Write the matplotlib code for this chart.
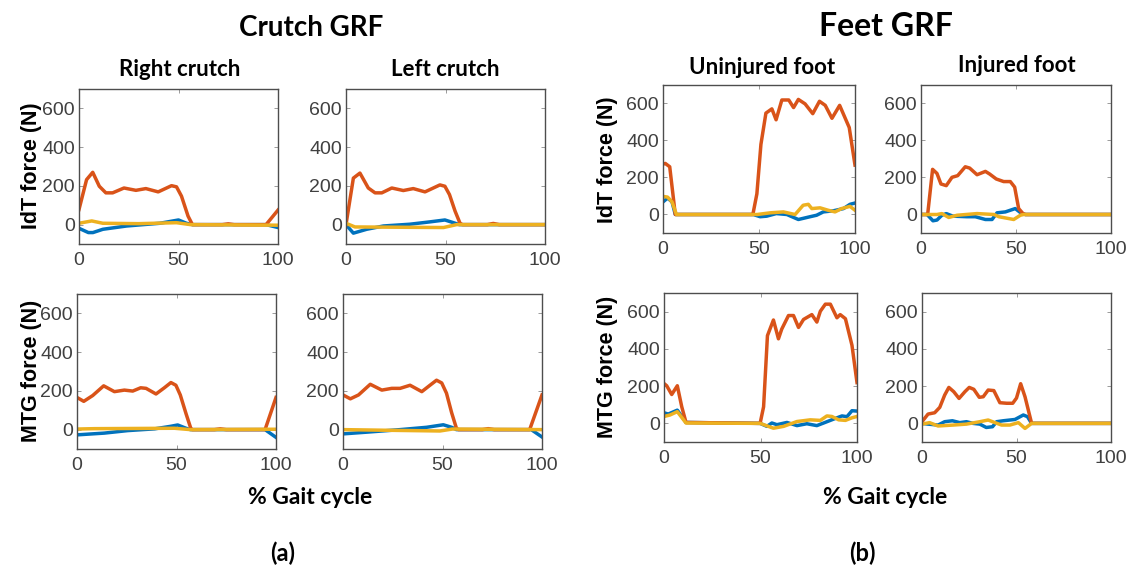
import matplotlib
matplotlib.use("Agg")
import matplotlib.pyplot as plt

# ---------------------------------------------------------------------------
# Ground reaction force components (N) versus % gait cycle.
# ap = anteroposterior (blue), vert = vertical (orange), ml = mediolateral (yellow)
# ---------------------------------------------------------------------------

# Right crutch, IdT
rc_idt_vert_x = [0, 3.8, 6.9, 10.2, 13.5, 16.9, 22.6, 28.6, 33.6, 39.8, 46.5, 49, 51.5, 54.8, 57, 72, 75, 78, 94, 100]
rc_idt_vert_y = [78, 232, 270, 198, 164, 164, 189, 177, 186, 169, 201, 195, 147, 44, 0, 0, 4, 0, 0, 75]
rc_idt_ap_x = [0, 4.7, 7, 12, 24, 40.6, 50, 54, 57, 94, 100]
rc_idt_ap_y = [-19, -41, -41, -24, -7, 7, 24, 7, 0, 0, -15]
rc_idt_ml_x = [0, 6.4, 12, 30, 49, 56, 100]
rc_idt_ml_y = [7, 19, 7, 5, 10, 0, -3]

# Left crutch, IdT
lc_idt_vert_x = [0, 3.7, 7, 11.2, 14.6, 18, 23, 28.8, 33.8, 39.7, 47.2, 49.7, 52, 54.8, 57.3, 58.5, 71, 74, 77, 100]
lc_idt_vert_y = [0, 240, 266, 189, 164, 164, 189, 176, 186, 169, 205, 198, 155, 70, 7, 0, 0, 6, 0, 0]
lc_idt_ap_x = [0, 3.7, 10.4, 18.8, 32, 42, 49.7, 54, 57, 100]
lc_idt_ap_y = [0, -44, -24, -7, 2, 14, 24, 10, 0, 0]
lc_idt_ml_x = [0, 4.5, 49, 55.6, 100]
lc_idt_ml_y = [7, -12, -15, 0, 0]

# Right crutch, MTG
rc_mtg_vert_x = [0, 3.4, 7.9, 13.4, 18.8, 23.8, 28, 32, 34.7, 39.7, 43.9, 47.2, 49.7, 51.9, 54.8, 57.3, 58, 69, 72, 75, 94.5, 100]
rc_mtg_vert_y = [166, 146, 176, 226, 196, 204, 199, 216, 213, 184, 216, 243, 229, 179, 82, 3, 0, 0, 4, 0, 0, 166]
rc_mtg_ap_x = [0, 13.7, 25.5, 39, 47, 50.6, 54.8, 57, 94.5, 100]
rc_mtg_ap_y = [-27, -18, -5, 4, 17, 24, 7, 0, 0, -40]
rc_mtg_ml_x = [0, 8.7, 49, 57, 100]
rc_mtg_ml_y = [3, 5, 7, 0, 2]

# Left crutch, MTG
lc_mtg_vert_x = [0, 3.7, 7.8, 13.7, 19.5, 24.5, 28.7, 33.7, 39.6, 43.7, 47, 49.6, 52, 54.6, 57, 58, 70, 73, 76, 93.8, 100]
lc_mtg_vert_y = [179, 159, 179, 234, 204, 213, 213, 229, 196, 229, 255, 241, 188, 87, 7, 0, 0, 5, 0, 0, 179]
lc_mtg_ap_x = [0, 12, 28.7, 42, 50.4, 54.6, 57, 94.6, 100]
lc_mtg_ap_y = [-22, -13, 0, 12, 25, 12, 0, 0, -38]
lc_mtg_ml_x = [0, 20, 48.7, 55, 100]
lc_mtg_ml_y = [0, -3, -7, 3, 0]

# Uninjured foot, IdT
uf_idt_vert_x = [0, 1.2, 3.5, 6.4, 46.8, 48.9, 51, 53.6, 56.7, 58.9, 61.9, 65.5, 68, 70.5, 74, 78, 81.5, 84.5, 88, 92, 97, 100]
uf_idt_vert_y = [272, 276, 258, 0, 0, 112, 379, 548, 571, 512, 619, 619, 578, 622, 598, 545, 612, 590, 520, 590, 470, 267]
uf_idt_ap_x = [0, 2.4, 4.7, 6.4, 47, 50.6, 54, 59, 64.5, 70.5, 76.6, 80, 83.5, 88.7, 94, 97.4, 100]
uf_idt_ap_y = [68, 89, 68, 0, 0, -12, -9, 5, 0, -27, -12, -4, 14, 20, 32, 55, 62]
uf_idt_ml_x = [0, 2.4, 4.7, 7, 49, 55.8, 62.7, 68.8, 73, 75.7, 77.5, 81.8, 86, 89.6, 93, 97.4, 100]
uf_idt_ml_y = [98, 94, 68, 0, 0, 9, 14, 0, 50, 55, 32, 36, 23, 14, 32, 44, 23]

# Injured foot, IdT
if_idt_vert_x = [0, 3.5, 6.1, 8.4, 10.5, 13.3, 16.3, 19.3, 23.3, 25.6, 29.5, 33.9, 36.1, 39.6, 43.5, 47, 49.3, 51.4, 53.7, 55, 100]
if_idt_vert_y = [0, 0, 244, 222, 165, 156, 201, 210, 258, 251, 215, 233, 219, 192, 178, 178, 148, 32, 5, 0, 0]
if_idt_ap_x = [0, 3.2, 6.3, 8.4, 11, 13.3, 16.8, 24.2, 28.6, 33.9, 37.4, 40, 44.4, 49.6, 53, 55, 100]
if_idt_ap_y = [0, 0, -34, -30, -4, 5, -9, -12, -12, -27, -27, 9, 14, 32, 5, 0, 0]
if_idt_ml_x = [0, 8.4, 11, 14.6, 19, 29.5, 38.4, 41, 48.8, 52.3, 54, 100]
if_idt_ml_y = [0, 0, 5, -16, -4, 5, 0, -12, -27, -4, 0, 0]

# Uninjured foot, MTG
uf_mtg_vert_x = [0, 1.4, 4, 6.9, 9.2, 11.4, 49.8, 51.6, 53.6, 56.7, 59.3, 61, 64.5, 67.1, 69.7, 72.3, 76.6, 79.2, 81, 83.6, 86.2, 89.6, 91.3, 94, 97.4, 100]
uf_mtg_vert_y = [214, 202, 155, 202, 89, 5, 0, 89, 471, 555, 454, 506, 579, 579, 515, 558, 584, 544, 602, 640, 640, 567, 584, 562, 419, 219]
uf_mtg_ap_x = [0, 2.2, 6.9, 11.4, 49.8, 53.3, 55.9, 58.5, 63.7, 68.9, 74, 79.2, 82.7, 87.9, 92.2, 94.8, 97.4, 100]
uf_mtg_ap_y = [57, 50, 71, 5, 0, -16, 2, -7, 5, -12, -2, -12, 2, 23, 40, 36, 68, 66]
uf_mtg_ml_x = [0, 3.1, 6.9, 11.4, 49.8, 56.7, 62, 68.9, 75.8, 81, 84.4, 87, 90.5, 94, 97.4, 100]
uf_mtg_ml_y = [37, 45, 63, 2, 0, -26, -16, 10, 19, 16, 40, 37, 19, 16, 30, 37]

# Injured foot, MTG
if_mtg_vert_x = [0, 3.2, 6.7, 9.4, 12, 14.2, 16.8, 19.6, 22.7, 25, 27.4, 30.3, 32.4, 35, 38, 41.2, 44.8, 48, 50, 52.2, 54.5, 58, 100]
if_mtg_vert_y = [9, 50, 57, 86, 152, 193, 170, 134, 170, 193, 183, 140, 143, 179, 176, 111, 108, 108, 136, 213, 143, 0, 0]
if_mtg_ap_x = [0, 3.2, 8.5, 12, 16.1, 20, 23.5, 27, 30.6, 34, 37.3, 39.5, 43, 49.2, 53.6, 55.8, 58, 100]
if_mtg_ap_y = [0, -4, -9, 9, 14, 4, 9, 0, -4, -22, -18, 9, 14, 21, 45, 36, 0, 0]
if_mtg_ml_x = [0, 4, 8.5, 16.5, 23.5, 30.6, 35, 38.6, 42.1, 46.5, 51, 54.5, 58, 100]
if_mtg_ml_y = [-4, 4, -14, -9, -4, 9, 18, 4, -9, -9, 4, -27, 0, 0]

x_ticks = [0, 50, 100]
y_ticks = [0, 200, 400, 600]
y_limits = (-100, 700)

BLUE = "#0072BD"
ORANGE = "#D95319"
YELLOW = "#EDB120"
TICK_COLOR = "#404040"

W, H = 1128, 571
fig = plt.figure(figsize=(W / 100, H / 100), dpi=100)
fig.patch.set_facecolor("white")


def box(left, top, right, bottom):
    return [left / W, 1 - bottom / H, (right - left) / W, (bottom - top) / H]


panels = [
    (box(79, 89, 278, 244), (rc_idt_ap_x, rc_idt_ap_y), (rc_idt_vert_x, rc_idt_vert_y), (rc_idt_ml_x, rc_idt_ml_y)),
    (box(346, 89, 545, 244), (lc_idt_ap_x, lc_idt_ap_y), (lc_idt_vert_x, lc_idt_vert_y), (lc_idt_ml_x, lc_idt_ml_y)),
    (box(77, 294, 276, 449), (rc_mtg_ap_x, rc_mtg_ap_y), (rc_mtg_vert_x, rc_mtg_vert_y), (rc_mtg_ml_x, rc_mtg_ml_y)),
    (box(343, 294, 542, 449), (lc_mtg_ap_x, lc_mtg_ap_y), (lc_mtg_vert_x, lc_mtg_vert_y), (lc_mtg_ml_x, lc_mtg_ml_y)),
    (box(663, 85, 855, 233), (uf_idt_ap_x, uf_idt_ap_y), (uf_idt_vert_x, uf_idt_vert_y), (uf_idt_ml_x, uf_idt_ml_y)),
    (box(921, 85, 1111, 233), (if_idt_ap_x, if_idt_ap_y), (if_idt_vert_x, if_idt_vert_y), (if_idt_ml_x, if_idt_ml_y)),
    (box(664, 293, 857, 442), (uf_mtg_ap_x, uf_mtg_ap_y), (uf_mtg_vert_x, uf_mtg_vert_y), (uf_mtg_ml_x, uf_mtg_ml_y)),
    (box(922, 293, 1111, 442), (if_mtg_ap_x, if_mtg_ap_y), (if_mtg_vert_x, if_mtg_vert_y), (if_mtg_ml_x, if_mtg_ml_y)),
]

tick_font = {"family": "Liberation Sans", "size": 14}

for rect, ap, vert, ml in panels:
    ax = fig.add_axes(rect)
    ax.plot(ap[0], ap[1], color=BLUE, lw=2.5, solid_joinstyle="round")
    ax.plot(vert[0], vert[1], color=ORANGE, lw=2.5, solid_joinstyle="round")
    ax.plot(ml[0], ml[1], color=YELLOW, lw=2.5, solid_joinstyle="round")
    ax.set_xlim(0, 100)
    ax.set_ylim(*y_limits)
    ax.set_xticks(x_ticks)
    ax.set_yticks(y_ticks)
    ax.set_xticklabels([str(v) for v in x_ticks], fontdict=tick_font, color=TICK_COLOR)
    ax.set_yticklabels([str(v) for v in y_ticks], fontdict=tick_font, color=TICK_COLOR)
    ax.tick_params(direction="in", length=3, width=0.6, colors="#8a8a8a",
                   top=True, right=True, labelcolor=TICK_COLOR)
    ax.tick_params(axis="x", pad=6)
    ax.tick_params(axis="y", pad=3)
    for sp in ax.spines.values():
        sp.set_color("#4d4d4d")
        sp.set_linewidth(1.0)

title_font = "Lato"
label_font = "Liberation Sans"

fig.text(311 / W, 1 - 28 / H, "Crutch GRF", ha="center", va="center",
         family=title_font, weight="bold", fontsize=20)
fig.text(886 / W, 1 - 27 / H, "Feet GRF", ha="center", va="center",
         family=title_font, weight="bold", fontsize=23)

for xc, yc, txt in [(180, 69, "Right crutch"), (445, 69, "Left crutch"),
                    (762, 67, "Uninjured foot"), (1017, 65, "Injured foot")]:
    fig.text(xc / W, 1 - yc / H, txt, ha="center", va="center",
             family=title_font, weight="bold", fontsize=16)

for xc, yc, txt in [(32, 166, "IdT force (N)"), (32, 371, "MTG force (N)"),
                    (608, 160, "IdT force (N)"), (608, 367, "MTG force (N)")]:
    fig.text(xc / W, 1 - yc / H, txt, ha="center", va="center", rotation=90,
             family=label_font, weight="bold", fontsize=15.5)

for xc, txt in [(310, "% Gait cycle"), (885, "% Gait cycle")]:
    fig.text(xc / W, 1 - 497 / H, txt, ha="center", va="center",
             family=title_font, weight="bold", fontsize=16.5)

fig.text(283 / W, 1 - 553 / H, "(a)", ha="center", va="center",
         family=title_font, weight="bold", fontsize=17)
fig.text(862 / W, 1 - 553 / H, "(b)", ha="center", va="center",
         family=title_font, weight="bold", fontsize=17)

fig.savefig("out.png", dpi=100, facecolor="white")
